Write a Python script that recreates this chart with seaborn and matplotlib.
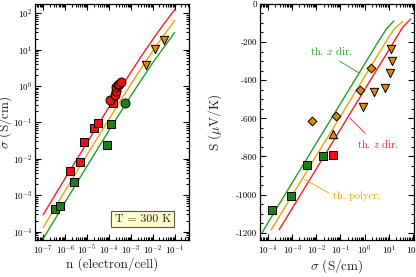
import numpy as np
import matplotlib
matplotlib.use("Agg")
import matplotlib.pyplot as plt
import seaborn as sns
from matplotlib.ticker import LogLocator, MultipleLocator, NullFormatter

# ---- left panel: conductivity vs carrier density ----
n_th = [1e-7, 1e-6, 1e-5, 1e-4, 1e-3, 3.16e-3, 1e-2, 3.16e-2, 1e-1]
sig_th_z = [2.9e-4, 2.9e-3, 2.75e-2, 0.263, 2.4, 6.9, 19.0, 50.1, 126.0]
sig_th_poly = [1.29e-4, 1.32e-3, 1.29e-2, 0.123, 1.12, 3.24, 9.12, 24.5, 63.1]
sig_th_x = [6.3e-5, 6.46e-4, 6.3e-3, 0.060, 0.537, 1.55, 4.37, 11.5, 29.5]

red_sq_n = [1.66e-6, 4.7e-6, 7.4e-6, 2.1e-5, 3.2e-5, 1.5e-4]
red_sq_sig = [4.5e-3, 8.1e-3, 2.9e-2, 6.9e-2, 9.5e-2, 0.35]
red_ci_n = [1.1e-4, 1.85e-4, 2.2e-4, 2.0e-4, 2.6e-4, 2.9e-4, 3.4e-4]
red_ci_sig = [0.42, 0.58, 0.74, 0.93, 1.07, 1.15, 1.3]
grn_sq_n = [3.4e-7, 5.8e-7, 2.5e-6, 8.5e-5, 1.3e-4]
grn_sq_sig = [4.2e-4, 4.9e-4, 2.3e-3, 2.45e-2, 9.1e-2]
grn_ci_n = [5.2e-4]
grn_ci_sig = [0.34]
org_tri_n = [4.7e-3, 1.23e-2, 3.2e-2]
org_tri_sig = [3.8, 10.5, 17.8]

# ---- right panel: Seebeck vs conductivity ----
s_sig_x = [5.6e-5, 3.16e-4, 1e-3, 3.16e-3, 1e-2, 3.16e-2, 0.1, 0.316, 1, 3.16, 7.9, 16.6]
s_x = [-1200, -1041, -937, -834, -730, -627, -523, -420, -316, -212, -133, -89]
s_sig_poly = [1.32e-4, 3.16e-4, 1e-3, 3.16e-3, 1e-2, 3.16e-2, 0.1, 0.316, 1, 3.16, 10, 17.8, 38]
s_poly = [-1186, -1107, -1003, -900, -796, -693, -589, -486, -382, -279, -175, -128, -93]
s_sig_z = [2.9e-4, 1e-3, 3.16e-3, 1e-2, 3.16e-2, 0.1, 0.316, 1, 3.16, 10, 36.3, 81]
s_z = [-1183, -1072, -968, -865, -761, -658, -554, -451, -347, -244, -127, -80]

r_grn_sq_sig = [1.5e-4, 8.7e-4, 4.2e-3, 1.9e-2]
r_grn_sq_s = [-1078, -1006, -845, -797]
r_red_sq_sig = [5.0e-2]
r_red_sq_s = [-793]
r_dia_sig = [6.9e-3, 6.5e-2, 0.63, 1.78]
r_dia_s = [-615, -589, -452, -338]
r_tup_sig = [4.7e-2]
r_tup_s = [-681]
r_tdn_sig = [0.83, 2.5, 6.9, 11.2, 13.2, 12.0]
r_tdn_s = [-539, -460, -442, -361, -300, -239]

RED, ORG, GRN = "#ff1a1a", "#f5a000", "#1fa01f"
RED_M, ORG_M, GRN_M = "#ee1111", "#d98c00", "#1c7f1c"

sns.set_style("ticks")
plt.rcParams["font.family"] = ["cmr10", "DejaVu Serif"]
plt.rcParams["mathtext.fontset"] = "cm"
plt.rcParams["axes.unicode_minus"] = False
plt.rcParams["axes.linewidth"] = 0.9

fig = plt.figure(figsize=(4.16, 2.77), dpi=100)
ax1 = fig.add_axes([0.084, 0.132, 0.370, 0.854])
ax2 = fig.add_axes([0.625, 0.132, 0.370, 0.854])

mk = dict(edgecolor="black", linewidth=0.7, zorder=3, legend=False)

# left panel
for ys, c in [(sig_th_z, RED), (sig_th_poly, ORG), (sig_th_x, GRN)]:
    sns.lineplot(x=n_th, y=ys, ax=ax1, color=c, lw=1.0, sort=False,
                 estimator=None)
sns.scatterplot(x=red_sq_n, y=red_sq_sig, ax=ax1, marker="s", s=28,
                color=RED_M, **mk)
sns.scatterplot(x=grn_sq_n, y=grn_sq_sig, ax=ax1, marker="s", s=28,
                color=GRN_M, **mk)
sns.scatterplot(x=red_ci_n, y=red_ci_sig, ax=ax1, marker="o", s=42,
                color=RED_M, **mk)
sns.scatterplot(x=grn_ci_n, y=grn_ci_sig, ax=ax1, marker="o", s=42,
                color=GRN_M, **mk)
sns.scatterplot(x=org_tri_n, y=org_tri_sig, ax=ax1, marker="v", s=36,
                color=ORG_M, **mk)
ax1.set_xscale("log")
ax1.set_yscale("log")
ax1.set_xlim(4.2e-8, 0.44)
ax1.set_ylim(5.7e-5, 180)
ax1.set_xlabel("n (electron/cell)", fontsize=9.5)
ax1.set_ylabel(r"$\sigma$ (S/cm)", fontsize=9.5)
ax1.xaxis.set_label_coords(0.5, -0.072)
ax1.yaxis.set_label_coords(-0.135, 0.5)
ax1.text(0.70, 0.091, "T = 300 K", transform=ax1.transAxes, fontsize=8.5,
         ha="center", va="center",
         bbox=dict(boxstyle="square,pad=0.3", fc="#ffffcc", ec="#555555",
                   lw=0.8))

# right panel
for xs, ys, c in [(s_sig_x, s_x, GRN), (s_sig_poly, s_poly, ORG),
                  (s_sig_z, s_z, RED)]:
    sns.lineplot(x=xs, y=ys, ax=ax2, color=c, lw=1.0, sort=False,
                 estimator=None)
sns.scatterplot(x=r_grn_sq_sig, y=r_grn_sq_s, ax=ax2, marker="s", s=28,
                color=GRN_M, **mk)
sns.scatterplot(x=r_red_sq_sig, y=r_red_sq_s, ax=ax2, marker="s", s=28,
                color=RED_M, **mk)
sns.scatterplot(x=r_dia_sig, y=r_dia_s, ax=ax2, marker="D", s=20,
                color=ORG_M, **mk)
sns.scatterplot(x=r_tup_sig, y=r_tup_s, ax=ax2, marker="^", s=36,
                color=ORG_M, **mk)
sns.scatterplot(x=r_tdn_sig, y=r_tdn_s, ax=ax2, marker="v", s=36,
                color=ORG_M, **mk)
ax2.set_xscale("log")
ax2.set_xlim(4.6e-5, 112)
ax2.set_ylim(-1240, 0)
ax2.yaxis.set_major_locator(MultipleLocator(200))
ax2.yaxis.set_minor_locator(MultipleLocator(50))
ax2.set_xlabel(r"$\sigma$ (S/cm)", fontsize=9.5)
ax2.set_ylabel(r"S ($\mu$V/K)", fontsize=9.5)
ax2.xaxis.set_label_coords(0.5, -0.072)
ax2.yaxis.set_label_coords(-0.235, 0.5)

ax2.annotate(r"th. $x$ dir.", xy=(0.575, -361), xytext=(0.040, -248),
             color=GRN, fontsize=7.5, ha="center", va="center",
             arrowprops=dict(arrowstyle="-", color=GRN, lw=0.6,
                             relpos=(0.55, 0.0), shrinkA=1, shrinkB=0))
ax2.annotate(r"th. $z$ dir.", xy=(0.245, -599), xytext=(3.6, -732),
             color=RED, fontsize=7.5, ha="center", va="center",
             arrowprops=dict(arrowstyle="-", color=RED, lw=0.6,
                             relpos=(0.3, 1.0), shrinkA=1, shrinkB=0))
ax2.annotate("th. polycr.", xy=(3.3e-3, -919), xytext=(0.48, -1010),
             color=ORG, fontsize=7.5, ha="center", va="center",
             arrowprops=dict(arrowstyle="-", color=ORG, lw=0.6,
                             relpos=(0.0, 0.6), shrinkA=1, shrinkB=0))

for ax in (ax1, ax2):
    ax.xaxis.set_major_locator(LogLocator(base=10, numticks=20))
    ax.xaxis.set_minor_locator(LogLocator(base=10, subs=np.arange(2, 10),
                                          numticks=20))
    ax.xaxis.set_minor_formatter(NullFormatter())
    ax.tick_params(which="both", direction="in", top=True, right=True,
                   labelsize=6.5, width=0.8, colors="black", pad=2)
    ax.tick_params(which="major", length=4)
    ax.tick_params(which="minor", length=2)
    for sp in ax.spines.values():
        sp.set_color("black")
ax1.yaxis.set_major_locator(LogLocator(base=10, numticks=20))
ax1.yaxis.set_minor_locator(LogLocator(base=10, subs=np.arange(2, 10),
                                       numticks=20))
ax1.yaxis.set_minor_formatter(NullFormatter())

fig.savefig("out.png", dpi=100)
